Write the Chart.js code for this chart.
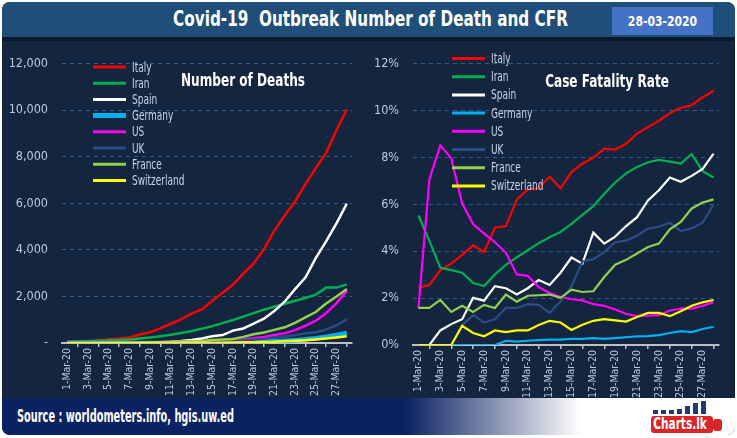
<!DOCTYPE html>
<html>
<head>
<meta charset="utf-8">
<script src="https://cdn.jsdelivr.net/npm/chart.js@4.4.1/dist/chart.umd.min.js"></script>
<style>
  body { margin: 0; background: #ffffff; width: 737px; height: 438px; overflow: hidden; }
  #frame { position: absolute; left: 2px; top: 2px; width: 733px; height: 433px; background: #13253f; border-radius: 8px; overflow: hidden; font-family: 'DejaVu Sans Condensed', sans-serif; }
  #header { position: absolute; left: 0; top: 0; width: 733px; height: 35px; background: #1f4e79; border-bottom: 4px solid #0c1a2d; }
  #title { position: absolute; left: 2px; width: 733px; top: 4px; text-align: center; color: #fff; font-weight: bold; font-size: 22px; transform: scaleX(0.77); transform-origin: 50% 50%; white-space: nowrap; }
  #date { position: absolute; left: 610px; top: 5px; width: 101px; height: 28px; background: #4472c4; }
  #date span { display: block; color: #fff; font-weight: bold; font-size: 14px; line-height: 28px; text-align: center; transform: scaleX(0.86); }
  canvas { position: absolute; }
  #footer { position: absolute; left: 0; top: 396px; width: 733px; height: 37px; background: linear-gradient(to right, #0b2262 0%, #0b2262 55%, #ffffff 79%); }
  #source { position: absolute; left: 15px; top: 8px; color: #fff; font-weight: bold; font-size: 17px; transform: scaleX(0.64); transform-origin: 0 50%; white-space: nowrap; }
  .bar { position: absolute; background: #1f3a6e; width: 5px; }
  #logo { position: absolute; left: 649px; top: 18px; width: 62px; height: 17px; background: #d9252a; border-radius: 3px; overflow: hidden; }
  #logo span { display: block; color: #fff; font-weight: bold; font-size: 15px; line-height: 17px; transform: scaleX(0.78); transform-origin: 0 50%; padding-left: 3px; white-space: nowrap; }
  #thumb { position: absolute; left: 711px; top: 21px; width: 9px; height: 12px; background: #d9252a; border-radius: 3px; }
</style>
</head>
<body>
<div id="frame">
  <div id="header">
    <div id="title">Covid-19&nbsp; Outbreak Number of Death and CFR</div>
    <div id="date"><span>28-03-2020</span></div>
  </div>
  <canvas id="deathsChart" width="365" height="356" style="left:-2px; top:40px;"></canvas>
  <canvas id="cfrChart" width="372" height="356" style="left:363px; top:40px;"></canvas>
  <div id="footer">
    <div id="source">Source : worldometers.info, hgis.uw.ed</div>
    <div class="bar" style="left:651px; top:12px; height:4px;"></div>
    <div class="bar" style="left:659px; top:12px; height:4px;"></div>
    <div class="bar" style="left:667px; top:12px; height:4px;"></div>
    <div class="bar" style="left:675px; top:11px; height:5px;"></div>
    <div class="bar" style="left:683px; top:8px; height:8px;"></div>
    <div class="bar" style="left:691px; top:5px; height:11px;"></div>
    <div class="bar" style="left:699px; top:3px; height:13px;"></div>
    <div id="logo"><span>Charts.lk</span></div>
    <div id="thumb"></div>
  </div>
</div>
<script>
// categories
const dates = ['1-Mar-20', '2-Mar-20', '3-Mar-20', '4-Mar-20', '5-Mar-20', '6-Mar-20', '7-Mar-20',
  '8-Mar-20', '9-Mar-20', '10-Mar-20', '11-Mar-20', '12-Mar-20', '13-Mar-20', '14-Mar-20',
  '15-Mar-20', '16-Mar-20', '17-Mar-20', '18-Mar-20', '19-Mar-20', '20-Mar-20', '21-Mar-20',
  '22-Mar-20', '23-Mar-20', '24-Mar-20', '25-Mar-20', '26-Mar-20', '27-Mar-20', '28-Mar-20'];
const countries = ['Italy', 'Iran', 'Spain', 'Germany', 'US', 'UK', 'France', 'Switzerland'];

// number of deaths
const italyDeaths = [34, 52, 79, 107, 148, 197, 233, 366, 463, 631, 827, 1016, 1266, 1441, 1809, 2158, 2503, 2978, 3405, 4032, 4825, 5476, 6077, 6820, 7503, 8165, 9134, 10023];
const iranDeaths = [54, 66, 77, 92, 107, 124, 145, 194, 237, 291, 354, 429, 514, 611, 724, 853, 988, 1135, 1284, 1433, 1556, 1685, 1812, 1934, 2077, 2378, 2378, 2517];
const spainDeaths = [0, 0, 1, 2, 3, 5, 10, 17, 28, 35, 54, 84, 133, 195, 289, 342, 533, 623, 830, 1043, 1375, 1772, 2311, 2808, 3647, 4365, 5138, 5982];
const germanyDeaths = [0, 0, 0, 0, 0, 0, 0, 0, 2, 2, 3, 6, 8, 9, 12, 13, 24, 28, 44, 67, 84, 94, 123, 157, 206, 267, 342, 433];
const usDeaths = [1, 6, 9, 11, 12, 15, 19, 22, 26, 30, 38, 41, 48, 57, 68, 86, 109, 150, 207, 256, 340, 415, 555, 740, 960, 1290, 1700, 2250];
const ukDeaths = [0, 0, 0, 0, 1, 2, 2, 3, 5, 6, 8, 8, 11, 21, 35, 55, 71, 104, 144, 177, 233, 281, 335, 422, 465, 578, 759, 1019];
const franceDeaths = [2, 3, 4, 4, 6, 9, 16, 19, 25, 33, 48, 61, 79, 91, 127, 148, 175, 264, 372, 450, 562, 674, 860, 1100, 1331, 1696, 1995, 2314];
const switzerlandDeaths = [0, 0, 0, 0, 1, 1, 1, 1, 2, 3, 4, 4, 7, 11, 13, 14, 19, 27, 33, 43, 56, 80, 98, 120, 153, 191, 235, 285];

// case fatality rate (%)
const italyCfr = [2.44, 2.56, 3.19, 3.47, 3.84, 4.25, 3.97, 5.0, 5.07, 6.2, 6.63, 6.68, 7.18, 6.68, 7.37, 7.73, 7.99, 8.37, 8.33, 8.58, 9.01, 9.29, 9.56, 9.88, 10.11, 10.22, 10.56, 10.84];
const iranCfr = [5.52, 4.44, 3.29, 3.19, 3.08, 2.64, 2.51, 3.01, 3.42, 3.74, 4.04, 4.34, 4.59, 4.82, 5.16, 5.55, 5.92, 6.45, 6.93, 7.32, 7.59, 7.79, 7.89, 7.82, 7.73, 8.14, 7.41, 7.14];
const spainCfr = [0, 0, 0.62, 0.89, 1.10, 2.01, 1.89, 2.51, 2.42, 2.15, 2.42, 2.77, 2.56, 3.08, 3.73, 3.47, 4.79, 4.32, 4.62, 5.07, 5.45, 6.16, 6.6, 7.14, 6.96, 7.21, 7.51, 8.16];
const germanyCfr = [0, 0, 0, 0, 0, 0, 0, 0, 0.18, 0.14, 0.18, 0.21, 0.23, 0.23, 0.26, 0.26, 0.29, 0.26, 0.29, 0.33, 0.37, 0.38, 0.42, 0.51, 0.59, 0.55, 0.68, 0.78];
const usCfr = [1.58, 7.07, 8.51, 7.96, 6.03, 5.16, 4.75, 4.38, 3.93, 3.01, 2.95, 2.47, 2.22, 2.05, 1.95, 1.90, 1.74, 1.67, 1.51, 1.33, 1.23, 1.25, 1.27, 1.47, 1.55, 1.55, 1.67, 1.82];
const ukCfr = [0, 0, 0, 0, 0.85, 1.27, 0.96, 1.10, 1.58, 1.58, 1.74, 1.71, 1.37, 1.85, 2.50, 3.56, 3.66, 3.96, 4.38, 4.45, 4.66, 4.96, 5.04, 5.21, 4.86, 4.97, 5.21, 5.99];
const franceCfr = [1.58, 1.58, 1.92, 1.41, 1.67, 1.41, 1.71, 1.58, 2.15, 1.85, 2.10, 2.12, 2.15, 2.01, 2.36, 2.26, 2.29, 2.90, 3.42, 3.63, 3.90, 4.18, 4.32, 4.93, 5.25, 5.82, 6.07, 6.21];
const switzerlandCfr = [0, 0, 0, 0, 0.82, 0.51, 0.37, 0.62, 0.55, 0.62, 0.62, 0.85, 1.03, 0.96, 0.64, 0.86, 1.03, 1.10, 1.05, 1.0, 1.19, 1.37, 1.37, 1.23, 1.44, 1.67, 1.82, 1.92];

// tick labels
const deathTicks = [0, 2000, 4000, 6000, 8000, 10000, 12000];
const cfrTicks = [0, 2, 4, 6, 8, 10, 12];

const colors = ['#ff0000', '#00b050', '#ffffff', '#00b0f0', '#ff00ff', '#2c4d84', '#92d050', '#ffff00'];
const FONT = "'DejaVu Sans Condensed', sans-serif";
const labelColor = '#bccae0';

Chart.defaults.font.family = FONT;

// draws text squeezed sideways, the original uses a narrow font
function narrowText(ctx, text, x, y, sx) {
  ctx.save();
  ctx.translate(x, y);
  ctx.scale(sx, 1);
  ctx.fillText(text, 0, 0);
  ctx.restore();
}

/*================== legend + title drawn inside the plot =========================*/
const insideLegend = {
  id: 'insideLegend',
  afterDraw(chart, args, opts) {
    const ctx = chart.ctx;
    ctx.save();
    ctx.textBaseline = 'middle';
    chart.data.datasets.forEach((ds, i) => {
      let y = opts.y + i * opts.gap;
      ctx.strokeStyle = ds.borderColor;
      ctx.lineWidth = opts.widths ? opts.widths[i] : 3;
      ctx.beginPath();
      ctx.moveTo(opts.x, y);
      ctx.lineTo(opts.x + 33, y);
      ctx.stroke();
      ctx.font = '13.5px ' + FONT;
      ctx.fillStyle = '#c9d4e7';
      narrowText(ctx, ds.label, opts.x + 39, y + 1, 0.74);
    });
    ctx.font = 'bold 17px ' + FONT;
    ctx.fillStyle = '#ffffff';
    ctx.textAlign = 'center';
    narrowText(ctx, opts.title, opts.tx, opts.ty, 0.79);
    ctx.restore();
  }
};

function makeDatasets(series, widths) {
  return series.map((data, i) => ({
    label: countries[i],
    data: data,
    borderColor: colors[i],
    backgroundColor: colors[i],
    borderWidth: widths[i],
    pointRadius: 0,
    tension: 0,
    order: series.length - i
  }));
}

function makeOptions(yTicks, yWidth, xHeight, padRight, fmt, legendOpts) {
  return {
    responsive: false,
    animation: false,
    layout: { padding: { top: 11, right: padRight, left: 0, bottom: 0 } },
    plugins: {
      legend: { display: false },
      tooltip: { enabled: false },
      insideLegend: legendOpts
    },
    scales: {
      x: {
        offset: true,
        grid: { offset: true, drawOnChartArea: false, drawTicks: true, tickLength: 4, color: '#bfbfbf', lineWidth: 1.5 },
        border: { display: true, color: '#bfbfbf', width: 2 },
        ticks: {
          autoSkip: false, minRotation: 90, maxRotation: 90, padding: 1,
          color: labelColor, font: { size: 10.5 },
          callback: (v, i) => (i % 2 === 0 ? dates[i] : null)
        },
        afterFit: s => { s.height = xHeight; }
      },
      y: {
        min: yTicks[0],
        max: yTicks[yTicks.length - 1],
        afterBuildTicks: s => { s.ticks = yTicks.map(v => ({ value: v })); },
        grid: {
          drawTicks: false,
          lineWidth: 1,
          color: c => (c.tick && c.tick.value === 0 ? 'rgba(0,0,0,0)' : '#2f5b88')
        },
        border: { display: false, dash: [4, 4] },
        ticks: { padding: 14, color: labelColor, font: { size: 12.5 }, callback: fmt },
        afterFit: s => { s.width = yWidth; }
      }
    }
  };
}

new Chart(document.getElementById('deathsChart'), {
  type: 'line',
  data: {
    labels: dates,
    datasets: makeDatasets(
      [italyDeaths, iranDeaths, spainDeaths, germanyDeaths, usDeaths, ukDeaths, franceDeaths, switzerlandDeaths],
      [2.5, 2.5, 2.5, 4.5, 2.5, 2.5, 2.5, 2.5])
  },
  options: makeOptions(deathTicks, 62, 55, 13,
    v => (v === 0 ? '-' : v.toLocaleString('en-US')),
    { x: 93, y: 25, gap: 16.2, widths: [3, 3, 3, 5, 3, 3, 3, 3], title: 'Number of Deaths', tx: 243, ty: 40 }),
  plugins: [insideLegend]
});

new Chart(document.getElementById('cfrChart'), {
  type: 'line',
  data: {
    labels: dates,
    datasets: makeDatasets(
      [italyCfr, iranCfr, spainCfr, germanyCfr, usCfr, ukCfr, franceCfr, switzerlandCfr],
      [2.2, 2.2, 2.2, 2.2, 2.2, 2.2, 2.2, 2.2])
  },
  options: makeOptions(cfrTicks, 48, 53, 18,
    v => v + '%',
    { x: 87, y: 16.5, gap: 18.2, title: 'Case Fatality Rate', tx: 242, ty: 41 }),
  plugins: [insideLegend]
});
</script>
</body>
</html>
